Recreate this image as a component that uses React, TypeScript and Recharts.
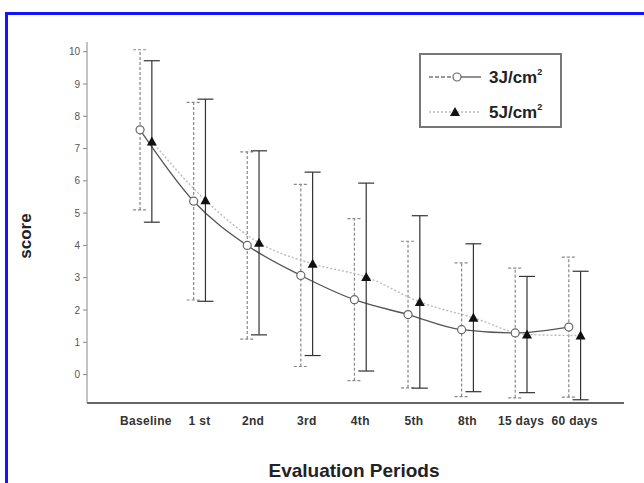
import React from "react"
import {
  ComposedChart,
  Line,
  XAxis,
  YAxis,
  ErrorBar,
} from "recharts"

const periods = ["Baseline", "1 st", "2nd", "3rd", "4th", "5th", "8th", "15 days", "60 days"]
const mean3J = [7.58, 5.37, 4.0, 3.07, 2.32, 1.86, 1.39, 1.29, 1.47]
const sd3J = [2.48, 3.06, 2.9, 2.82, 2.51, 2.27, 2.07, 2.01, 2.17]
const mean5J = [7.22, 5.4, 4.08, 3.43, 3.02, 2.25, 1.76, 1.24, 1.21]
const sd5J = [2.5, 3.13, 2.85, 2.84, 2.91, 2.67, 2.29, 1.8, 1.99]
const yTicks = [0, 1, 2, 3, 4, 5, 6, 7, 8, 9, 10]

// the two groups sit side by side around each period
const DODGE = 0.11

const data3J = periods.map((p, i) => ({ x: i - DODGE, y: mean3J[i], sd: sd3J[i] }))
const data5J = periods.map((p, i) => ({ x: i + DODGE, y: mean5J[i], sd: sd5J[i] }))

const font = "'Liberation Sans', Arial, sans-serif"

function CircleDot(props: any) {
  const { cx, cy, index } = props
  return <circle key={"c" + index} cx={cx} cy={cy} r={4} fill="#fff" stroke="#666" strokeWidth={1.2} />
}

function TriangleDot(props: any) {
  const { cx, cy, index } = props
  const s = 5
  return (
    <path
      key={"t" + index}
      d={`M${cx},${cy - s} L${cx + s},${cy + s * 0.8} L${cx - s},${cy + s * 0.8} Z`}
      fill="#111"
    />
  )
}

function LegendBox() {
  return (
    <div
      style={{
        position: "absolute",
        left: 419,
        top: 53,
        width: 139,
        height: 71,
        border: "2px solid #777",
        background: "#fff",
        fontFamily: font,
      }}
    >
      <svg width={139} height={71} style={{ position: "absolute", left: 0, top: 0 }}>
        <line x1={8} y1={22} x2={32} y2={22} stroke="#777" strokeWidth={1.3} strokeDasharray="4 2" />
        <line x1={40} y1={22} x2={60} y2={22} stroke="#555" strokeWidth={1.3} />
        <circle cx={36} cy={22} r={4} fill="#fff" stroke="#666" strokeWidth={1.2} />
        <line x1={8} y1={57} x2={60} y2={57} stroke="#bbb" strokeWidth={1.3} strokeDasharray="2 2" />
        <path d="M34,52 L39,61 L29,61 Z" fill="#111" />
        <text x={68} y={28} fontSize={17} fontWeight="bold" fill="#222">
          3J/cm<tspan fontSize={9} dy={-8}>2</tspan>
        </text>
        <text x={68} y={63} fontSize={17} fontWeight="bold" fill="#222">
          5J/cm<tspan fontSize={9} dy={-8}>2</tspan>
        </text>
      </svg>
    </div>
  )
}

export default function App() {
  return (
    <div
      style={{
        position: "absolute",
        left: 0,
        top: 0,
        width: 644,
        height: 483,
        overflow: "hidden",
        background: "#fff",
        fontFamily: font,
      }}
    >
      <div
        style={{
          position: "absolute",
          left: 5,
          top: 12,
          width: 2000,
          height: 2000,
          borderTop: "3px solid #1414ff",
          borderLeft: "3px solid #1414ff",
        }}
      />
      <ComposedChart
        width={644}
        height={483}
        margin={{ top: 42, right: 20, bottom: 60, left: 57 }}
        style={{ position: "absolute", left: 0, top: 0 }}
      >
        <XAxis
          dataKey="x"
          type="number"
          domain={[-1.1, 8.92]}
          ticks={periods.map((p, i) => i)}
          interval={0}
          tickFormatter={(v: number) => periods[v] ?? ""}
          tick={{ fontSize: 12, fill: "#333", fontWeight: "bold", fontFamily: font, letterSpacing: 0.3 }}
          tickLine={false}
          tickMargin={7}
          axisLine={{ stroke: "#333", strokeWidth: 1.5 }}
          height={20}
          allowDataOverflow
        />
        <YAxis
          type="number"
          domain={[-0.88, 10.3]}
          ticks={yTicks}
          interval={0}
          tick={{ fontSize: 10, fill: "#555", fontFamily: font }}
          tickLine={{ stroke: "#888" }}
          tickSize={4}
          tickMargin={3}
          axisLine={{ stroke: "#888" }}
          width={30}
          allowDataOverflow
        />
        <Line
          data={data3J}
          dataKey="y"
          type="monotone"
          stroke="#555"
          strokeWidth={1.3}
          dot={CircleDot}
          activeDot={false}
          isAnimationActive={false}
        >
          <ErrorBar dataKey="sd" direction="y" width={7} stroke="#888" strokeWidth={1.2} strokeDasharray="3 2" />
        </Line>
        <Line
          data={data5J}
          dataKey="y"
          type="monotone"
          stroke="#bbb"
          strokeWidth={1.4}
          strokeDasharray="2 2"
          dot={TriangleDot}
          activeDot={false}
          isAnimationActive={false}
        >
          <ErrorBar dataKey="sd" direction="y" width={8} stroke="#333" strokeWidth={1.2} />
        </Line>
      </ComposedChart>
      <LegendBox />
      <div
        style={{
          position: "absolute",
          left: 26,
          top: 236,
          transform: "translate(-50%, -50%) rotate(-90deg)",
          fontSize: 17,
          fontWeight: "bold",
          color: "#222",
          whiteSpace: "nowrap",
        }}
      >
        score
      </div>
      <div
        style={{
          position: "absolute",
          left: 354,
          top: 471,
          transform: "translate(-50%, -50%)",
          fontSize: 19,
          fontWeight: "bold",
          color: "#222",
          whiteSpace: "nowrap",
        }}
      >
        Evaluation Periods
      </div>
    </div>
  )
}
